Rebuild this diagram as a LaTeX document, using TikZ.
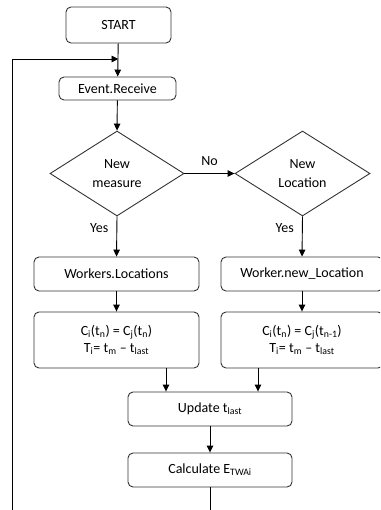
\documentclass[tikz,border=0pt]{standalone}
\usepackage{fontspec}
\setmainfont{Carlito}
\usetikzlibrary{shapes.geometric,arrows.meta}
\tikzset{
  box/.style={draw=black!80, line width=0.9pt, rounded corners=5pt, align=center, inner sep=0pt, font=\fontsize{14}{16}\selectfont},
  dia/.style={draw=black!80, line width=0.9pt, diamond, inner sep=0pt, align=center, font=\fontsize{14}{19}\selectfont},
  arr/.style={line width=0.9pt, -{Triangle[length=7pt,width=6.5pt]}},
  lbl/.style={font=\fontsize{14}{16}\selectfont, inner sep=0pt}
}
\begin{document}
\begin{tikzpicture}[x=1pt,y=-1pt]
\useasboundingbox (0,0) rectangle (380,510);
\clip (0,0) rectangle (380,510);
\node[box, minimum width=105pt, minimum height=36pt] (start) at (118.5,25) {START};
\node[box, minimum width=117pt, minimum height=23pt] (event) at (117.5,88.5) {Event.Receive};
\node[dia, minimum width=134pt, minimum height=85pt] (d1) at (117,173.5) {New\\measure};
\node[dia, minimum width=135pt, minimum height=85pt] (d2) at (302.5,173.5) {New\\Location};
\node[box, minimum width=165pt, minimum height=34pt] (wl) at (116.5,274) {Workers.Locations};
\node[box, minimum width=162pt, minimum height=34pt] (wn) at (302,274) {Worker.new\_Location};
\node[box, minimum width=165pt, minimum height=56pt, font=\fontsize{14}{17}\selectfont] (fl) at (116.5,340)
  {C\textsubscript{i}(t\textsubscript{n}) = C\textsubscript{j}(t\textsubscript{n})\\T\textsubscript{i}= t\textsubscript{m} -- t\textsubscript{last}};
\node[box, minimum width=162pt, minimum height=56pt, font=\fontsize{14}{17}\selectfont] (fr) at (302,340)
  {C\textsubscript{i}(t\textsubscript{n}) = C\textsubscript{j}(t\textsubscript{n-1})\\T\textsubscript{i}= t\textsubscript{m} -- t\textsubscript{last}};
\node[box, minimum width=164pt, minimum height=34pt] (up) at (210,409) {Update t\textsubscript{last}};
\node[box, minimum width=164pt, minimum height=34pt] (calc) at (210,470) {Calculate E\textsubscript{TWAi}};

\coordinate (loopy) at (0,59);
\coordinate (loopx) at (12,0);
\coordinate (bot) at (0,520);
\coordinate (xl) at (166,0);
\coordinate (xr) at (258,0);

\draw[arr] (start) -- (event);
\draw[arr] (event) -- (d1.north);
\draw[arr] (d1.east) -- (d2.west) node[lbl, midway, above=7pt] {No};
\draw[arr] (d1.south) -- (wl.north) node[lbl, pos=0.3, left=8pt] {Yes};
\draw[arr] (d2.south) -- (wn.north) node[lbl, pos=0.3, left=8pt] {Yes};
\draw[arr] (wl) -- (fl);
\draw[arr] (wn) -- (fr);
\draw[arr] (fl.south -| xl) -- (up.north -| xl);
\draw[arr] (fr.south -| xr) -- (up.north -| xr);
\draw[arr] (up) -- (calc);
\draw[line width=0.9pt] (calc.south) -- (calc.south |- bot) -- (loopx |- bot) -- (loopx |- loopy);
\draw[arr] (loopx |- loopy) -- (start.south |- loopy);
\end{tikzpicture}
\end{document}
